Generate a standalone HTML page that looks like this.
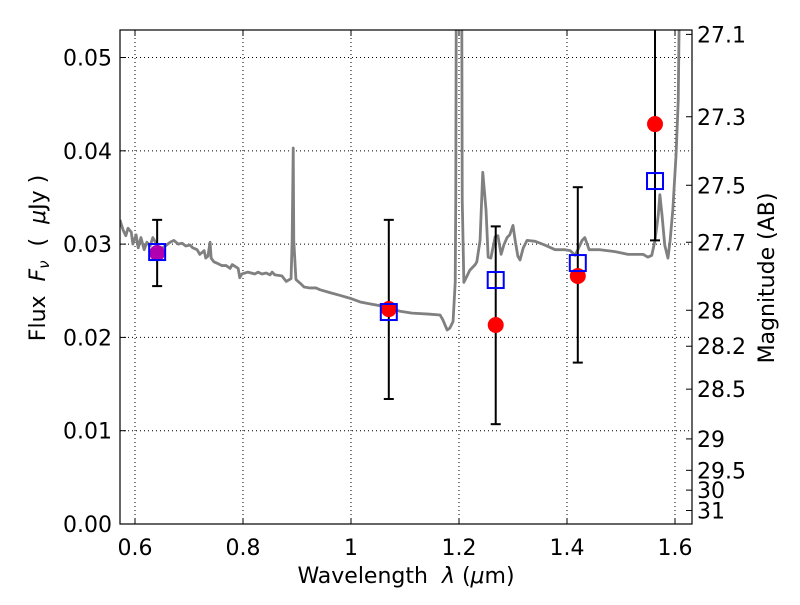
<!DOCTYPE html>
<html><head><meta charset="utf-8"><style>
body{margin:0;background:#fff}
svg text{font-family:"DejaVu Sans","Liberation Sans",sans-serif;fill:#000}
</style></head><body>
<svg id="c" width="800" height="600" xmlns="http://www.w3.org/2000/svg"></svg>
<script>
const specW=[0.572,0.578,0.583,0.587,0.593,0.596,0.602,0.606,0.611,0.617,0.622,0.628,0.633,0.641,0.646,0.656,0.665,0.672,0.680,0.687,0.694,0.702,0.707,0.715,0.720,0.728,0.731,0.735,0.739,0.741,0.746,0.754,0.761,0.769,0.776,0.780,0.783,0.791,0.794,0.798,0.809,0.822,0.828,0.835,0.843,0.850,0.854,0.859,0.872,0.880,0.889,0.891,0.893,0.894,0.898,0.906,0.913,0.924,0.935,0.943,0.961,0.980,0.998,1.017,1.035,1.063,1.091,1.113,1.143,1.165,1.170,1.178,1.183,1.189,1.193,1.194,1.196,1.204,1.206,1.209,1.215,1.220,1.230,1.233,1.239,1.244,1.250,1.254,1.259,1.267,1.272,1.278,1.283,1.289,1.294,1.300,1.304,1.309,1.313,1.319,1.326,1.341,1.359,1.378,1.396,1.406,1.415,1.420,1.428,1.433,1.441,1.461,1.489,1.513,1.541,1.550,1.557,1.563,1.569,1.572,1.576,1.581,1.587,1.591,1.596,1.602,1.606,1.609];
const specF=[0.0326,0.0315,0.0309,0.0317,0.0313,0.0300,0.0310,0.0296,0.0307,0.0294,0.0302,0.0298,0.0307,0.0299,0.0294,0.0298,0.0302,0.0304,0.0300,0.0301,0.0298,0.0299,0.0296,0.0294,0.0289,0.0293,0.0285,0.0287,0.0302,0.0285,0.0281,0.0279,0.0277,0.0277,0.0274,0.0278,0.0277,0.0274,0.0264,0.0268,0.0270,0.0268,0.0270,0.0268,0.0269,0.0267,0.0270,0.0267,0.0266,0.0260,0.0263,0.0304,0.0403,0.0304,0.0262,0.0258,0.0254,0.0253,0.0253,0.0251,0.0248,0.0245,0.0242,0.0238,0.0236,0.0233,0.0228,0.0226,0.0225,0.0224,0.0219,0.0208,0.0210,0.0217,0.0259,0.0347,0.08,0.08,0.0347,0.0259,0.0266,0.0272,0.0278,0.0281,0.0304,0.0377,0.0337,0.0286,0.0285,0.0308,0.0309,0.0289,0.0299,0.0307,0.0310,0.0320,0.0304,0.0287,0.0283,0.0296,0.0304,0.0303,0.0299,0.0294,0.0294,0.0293,0.0288,0.0294,0.0304,0.0307,0.0294,0.0294,0.0292,0.0289,0.0289,0.0286,0.0288,0.0304,0.0331,0.0353,0.0331,0.0299,0.0285,0.0304,0.0337,0.0396,0.0454,0.06];
const bandW=[0.641,1.070,1.268,1.420,1.563];
const obsF=[0.02905,0.02304,0.02133,0.02658,0.04287];
const errLo=[0.0255,0.0134,0.0107,0.0173,0.0304];
const errHi=[0.0326,0.0326,0.0319,0.0361,0.060];
const modelF=[0.02915,0.02272,0.02615,0.02797,0.03676];
const xTicks=[0.6,0.8,1,1.2,1.4,1.6];
const xTickLabels=["0.6","0.8","1","1.2","1.4","1.6"];
const yTicks=[0,0.01,0.02,0.03,0.04,0.05];
const yTickLabels=["0.00","0.01","0.02","0.03","0.04","0.05"];
const magTicks=[27.1,27.3,27.5,27.7,28,28.2,28.5,29,29.5,30,31];
const magTickLabels=["27.1","27.3","27.5","27.7","28","28.2","28.5","29","29.5","30","31"];

const L=120,R=692,T=30,B=524;
const x0=0.5722,x1=1.6315,y0=0,y1=0.05295;
const X=v=>L+(v-x0)/(x1-x0)*(R-L);
const Y=v=>B-(v-y0)/(y1-y0)*(B-T);
const magToF=m=>Math.pow(10,(23.9-m)/2.5);
const svg=document.getElementById('c');
const NS='http://www.w3.org/2000/svg';
function mk(tag,at,parent){const e=document.createElementNS(NS,tag);for(const k in at)e.setAttribute(k,at[k]);(parent||svg).appendChild(e);return e;}

const defs=mk('defs',{});
const cp=mk('clipPath',{id:'clip'},defs);
mk('rect',{x:L,y:T,width:R-L,height:B-T},cp);

xTicks.forEach(t=>{const g=mk('line',{x1:X(t),x2:X(t),y1:T,y2:B,stroke:'#000','stroke-width':1,'stroke-dasharray':'1,3'});

});
yTicks.forEach(t=>{const g=mk('line',{x1:L,x2:R,y1:Y(t),y2:Y(t),stroke:'#000','stroke-width':1,'stroke-dasharray':'1,3'});

});

const plot=mk('g',{'clip-path':'url(#clip)'});


const sp=mk('polyline',{points:specW.map((w,i)=>X(w)+','+Y(specF[i])).join(' '),fill:'none',stroke:'#808080','stroke-width':2.8,'stroke-linejoin':'round'},plot);


bandW.forEach((w,i)=>{
 const g=mk('g',{},plot);
 
 
 mk('line',{x1:X(w),x2:X(w),y1:Y(errLo[i]),y2:Y(errHi[i]),stroke:'#000','stroke-width':2},g);
 mk('line',{x1:X(w)-5,x2:X(w)+5,y1:Y(errLo[i]),y2:Y(errLo[i]),stroke:'#000','stroke-width':2},g);
 mk('line',{x1:X(w)-5,x2:X(w)+5,y1:Y(errHi[i]),y2:Y(errHi[i]),stroke:'#000','stroke-width':2},g);
});
bandW.forEach((w,i)=>{
 const c=mk('circle',{cx:X(w),cy:Y(obsF[i]),r:8,fill:i===0?'#b000b0':'#ff0000'},plot);
 
 
});
bandW.forEach((w,i)=>{
 const s=mk('rect',{x:X(w)-8,y:Y(modelF[i])-8,width:16,height:16,fill:'none',stroke:'#0000ff','stroke-width':2},plot);
 
 
});

const fr=mk('rect',{x:L,y:T,width:R-L,height:B-T,fill:'none',stroke:'#000','stroke-width':1.2});



xTicks.forEach((t,i)=>{
 mk('line',{x1:X(t),x2:X(t),y1:B,y2:B-6,stroke:'#000'});
 mk('line',{x1:X(t),x2:X(t),y1:T,y2:T+6,stroke:'#000'});
 const tx=mk('text',{x:X(t),y:B+31,'font-size':22,'text-anchor':'middle'});
 tx.textContent=xTickLabels[i];
 
 
});
yTicks.forEach((t,i)=>{
 mk('line',{x1:L,x2:L+6,y1:Y(t),y2:Y(t),stroke:'#000'});
 const tx=mk('text',{x:L-8,y:Y(t)+8,'font-size':22,'text-anchor':'end'});
 tx.textContent=yTickLabels[i];
 
 
});
magTicks.forEach((m,i)=>{
 const yy=Y(magToF(m));
 mk('line',{x1:R,x2:R-6,y1:yy,y2:yy,stroke:'#000'});
 const tx=mk('text',{x:R+5,y:yy+8,'font-size':22,'text-anchor':'start'});
 tx.textContent=magTickLabels[i];
 
 
});
</script>
<svg width="800" height="600" style="position:absolute;left:0;top:0">
<text x="406" y="583" font-size="22" text-anchor="middle" font-family="DejaVu Sans, Liberation Sans, sans-serif" xml:space="preserve">Wavelength  <tspan font-style="italic">λ</tspan> (<tspan font-style="italic">μ</tspan>m)</text>
<text transform="translate(45,258) rotate(-90)" font-size="22" text-anchor="middle" font-family="DejaVu Sans, Liberation Sans, sans-serif" xml:space="preserve">Flux  <tspan font-style="italic">F</tspan><tspan font-style="italic" font-size="15" dy="4">ν</tspan><tspan dy="-4">  (  </tspan><tspan font-style="italic">μ</tspan>Jy )</text>
<text transform="translate(774,278) rotate(-90)" font-size="22" text-anchor="middle" font-family="DejaVu Sans, Liberation Sans, sans-serif">Magnitude (AB)</text>
</svg>
</body></html>
